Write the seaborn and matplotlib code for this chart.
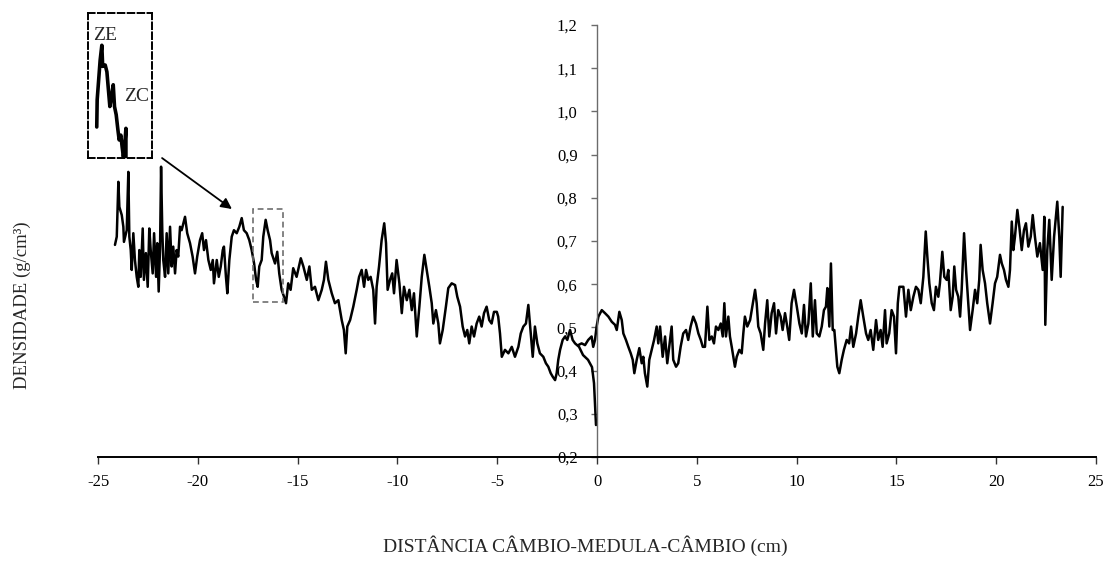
import matplotlib
matplotlib.use("Agg")
import matplotlib.pyplot as plt
import seaborn as sns
import numpy as np
from matplotlib.ticker import FuncFormatter
from matplotlib.patches import Rectangle

# ---------------- data ----------------
# left radius (casca -> medula), distance in cm, density in g/cm3
esq_x = [-24.15, -24.06, -23.98, -23.93, -23.81, -23.73, -23.70, -23.56, -23.48, -23.43,
         -23.36, -23.31, -23.23, -23.15, -23.06, -22.98, -22.93, -22.86, -22.76, -22.70,
         -22.60, -22.51, -22.43, -22.36, -22.26, -22.19, -22.09, -22.03, -21.96, -21.89,
         -21.84, -21.78, -21.73, -21.64, -21.56, -21.48, -21.39, -21.31, -21.23, -21.14,
         -21.06, -20.98, -20.89, -20.81, -20.64, -20.53, -20.39, -20.26, -20.14, -20.03,
         -19.89, -19.78, -19.69, -19.59, -19.47, -19.35, -19.25, -19.19, -19.05, -18.95,
         -18.85, -18.75, -18.69, -18.59, -18.52, -18.42, -18.30, -18.19, -18.05, -17.92,
         -17.80, -17.69, -17.55, -17.42, -17.30, -17.18, -17.08, -17.00, -16.92, -16.80,
         -16.72, -16.60, -16.50, -16.38, -16.30, -16.13, -16.02, -15.92, -15.80, -15.68,
         -15.58, -15.47, -15.35, -15.22, -15.05, -14.84, -14.71, -14.54, -14.41, -14.29,
         -14.13, -13.96, -13.79, -13.68, -13.58, -13.46, -13.29, -13.13, -12.96, -12.79,
         -12.68, -12.59, -12.51, -12.37, -12.21, -12.04, -11.92, -11.79, -11.67, -11.57,
         -11.46, -11.34, -11.21, -11.12, -11.04, -10.92, -10.79, -10.66, -10.57, -10.49,
         -10.37, -10.26, -10.17, -10.04, -9.90, -9.78, -9.67, -9.53, -9.40, -9.28,
         -9.17, -9.03, -8.90, -8.78, -8.65, -8.53, -8.40, -8.28, -8.20, -8.07,
         -7.95, -7.87, -7.73, -7.57, -7.45, -7.28, -7.11, -7.00, -6.86, -6.73,
         -6.61, -6.50, -6.40, -6.28, -6.16, -6.03, -5.90, -5.78, -5.66, -5.53,
         -5.40, -5.28, -5.16, -5.02, -4.95, -4.86, -4.77, -4.61, -4.44, -4.27,
         -4.11, -3.94, -3.82, -3.69, -3.56, -3.44, -3.36, -3.22, -3.11, -2.99,
         -2.86, -2.69, -2.56, -2.44, -2.32, -2.22, -2.10, -2.02, -1.94, -1.85,
         -1.72, -1.60, -1.49, -1.35, -1.22, -1.10, -0.90, -0.70, -0.45, -0.25,
         -0.15, -0.05]
esq_dens = [0.691, 0.710, 0.837, 0.779, 0.760, 0.733, 0.698, 0.725, 0.860, 0.710,
            0.679, 0.633, 0.718, 0.656, 0.617, 0.594, 0.679, 0.617, 0.729, 0.610,
            0.672, 0.594, 0.729, 0.679, 0.625, 0.718, 0.617, 0.695, 0.583, 0.687,
            0.872, 0.725, 0.656, 0.617, 0.718, 0.625, 0.733, 0.641, 0.687, 0.625,
            0.679, 0.664, 0.733, 0.725, 0.756, 0.718, 0.695, 0.664, 0.625, 0.664,
            0.702, 0.718, 0.679, 0.702, 0.656, 0.633, 0.656, 0.602, 0.656, 0.617,
            0.641, 0.679, 0.687, 0.617, 0.579, 0.656, 0.710, 0.725, 0.718, 0.733,
            0.753, 0.725, 0.718, 0.702, 0.679, 0.648, 0.610, 0.594, 0.641, 0.656,
            0.710, 0.749, 0.725, 0.702, 0.672, 0.648, 0.675, 0.625, 0.587, 0.571,
            0.556, 0.602, 0.587, 0.637, 0.617, 0.660, 0.641, 0.610, 0.641, 0.587,
            0.594, 0.563, 0.587, 0.610, 0.652, 0.610, 0.579, 0.556, 0.563, 0.517,
            0.494, 0.440, 0.502, 0.517, 0.548, 0.587, 0.617, 0.633, 0.594, 0.633,
            0.610, 0.617, 0.587, 0.509, 0.594, 0.641, 0.702, 0.741, 0.695, 0.587,
            0.610, 0.625, 0.579, 0.656, 0.602, 0.533, 0.594, 0.563, 0.587, 0.540,
            0.579, 0.479, 0.548, 0.617, 0.668, 0.633, 0.594, 0.556, 0.509, 0.540,
            0.509, 0.463, 0.494, 0.548, 0.591, 0.602, 0.598, 0.571, 0.548, 0.502,
            0.479, 0.494, 0.463, 0.502, 0.479, 0.509, 0.525, 0.502, 0.533, 0.548,
            0.517, 0.509, 0.536, 0.536, 0.525, 0.486, 0.432, 0.448, 0.440, 0.455,
            0.432, 0.455, 0.486, 0.502, 0.509, 0.552, 0.509, 0.432, 0.502, 0.463,
            0.440, 0.432, 0.417, 0.409, 0.394, 0.386, 0.378, 0.394, 0.425, 0.448,
            0.471, 0.479, 0.471, 0.494, 0.471, 0.463, 0.455, 0.436, 0.425, 0.408,
            0.371, 0.274]

# right radius (medula -> casca)
dir_x = [-0.94, -0.77, -0.60, -0.44, -0.27, -0.19, -0.10, -0.02, 0.07, 0.24,
         0.40, 0.57, 0.74, 0.90, 0.99, 1.12, 1.24, 1.32, 1.45, 1.57,
         1.69, 1.79, 1.87, 1.99, 2.12, 2.24, 2.32, 2.40, 2.52, 2.62,
         2.74, 2.86, 2.99, 3.07, 3.16, 3.29, 3.41, 3.52, 3.62, 3.74,
         3.82, 3.96, 4.07, 4.19, 4.32, 4.46, 4.57, 4.69, 4.82, 4.96,
         5.08, 5.20, 5.30, 5.41, 5.53, 5.63, 5.75, 5.86, 5.96, 6.08,
         6.20, 6.30, 6.38, 6.46, 6.58, 6.66, 6.75, 6.83, 6.91, 7.00,
         7.13, 7.25, 7.33, 7.41, 7.53, 7.67, 7.78, 7.92, 8.00, 8.08,
         8.20, 8.33, 8.42, 8.53, 8.63, 8.75, 8.87, 8.97, 9.08, 9.20,
         9.30, 9.42, 9.53, 9.63, 9.75, 9.87, 10.01, 10.14, 10.26, 10.37,
         10.47, 10.59, 10.71, 10.81, 10.92, 11.01, 11.14, 11.26, 11.37, 11.47,
         11.54, 11.64, 11.72, 11.81, 11.89, 11.97, 12.04, 12.14, 12.26, 12.37,
         12.51, 12.63, 12.73, 12.84, 12.98, 13.09, 13.21, 13.34, 13.48, 13.59,
         13.71, 13.84, 13.98, 14.09, 14.21, 14.31, 14.43, 14.51, 14.64, 14.76,
         14.88, 14.98, 15.07, 15.15, 15.35, 15.48, 15.60, 15.72, 15.85, 15.98,
         16.10, 16.22, 16.35, 16.47, 16.55, 16.65, 16.77, 16.88, 16.98, 17.10,
         17.18, 17.30, 17.40, 17.52, 17.60, 17.72, 17.82, 17.90, 17.99, 18.10,
         18.19, 18.27, 18.39, 18.49, 18.60, 18.69, 18.82, 18.94, 19.05, 19.15,
         19.22, 19.32, 19.44, 19.55, 19.69, 19.82, 19.94, 20.05, 20.19, 20.28,
         20.39, 20.49, 20.61, 20.69, 20.78, 20.86, 20.94, 21.06, 21.16, 21.28,
         21.39, 21.49, 21.61, 21.73, 21.83, 21.94, 22.06, 22.19, 22.33, 22.41,
         22.46, 22.56, 22.66, 22.78, 22.90, 23.06, 23.16, 23.23, 23.33]
dir_dens = [0.459, 0.463, 0.459, 0.471, 0.479, 0.455, 0.471, 0.502, 0.525, 0.540,
            0.533, 0.525, 0.513, 0.506, 0.494, 0.536, 0.517, 0.486, 0.471, 0.455,
            0.440, 0.425, 0.394, 0.425, 0.452, 0.417, 0.432, 0.394, 0.363, 0.425,
            0.448, 0.471, 0.502, 0.463, 0.502, 0.432, 0.479, 0.417, 0.455, 0.502,
            0.425, 0.409, 0.417, 0.455, 0.486, 0.494, 0.471, 0.502, 0.525, 0.509,
            0.486, 0.471, 0.455, 0.455, 0.548, 0.471, 0.479, 0.463, 0.502, 0.494,
            0.509, 0.479, 0.556, 0.479, 0.525, 0.479, 0.455, 0.432, 0.409, 0.432,
            0.448, 0.440, 0.486, 0.525, 0.502, 0.517, 0.548, 0.587, 0.556, 0.502,
            0.486, 0.448, 0.509, 0.563, 0.479, 0.533, 0.556, 0.486, 0.540, 0.525,
            0.494, 0.533, 0.502, 0.471, 0.556, 0.587, 0.548, 0.509, 0.486, 0.552,
            0.479, 0.509, 0.602, 0.479, 0.563, 0.486, 0.479, 0.502, 0.540, 0.548,
            0.591, 0.502, 0.648, 0.494, 0.494, 0.448, 0.409, 0.394, 0.425, 0.448,
            0.471, 0.463, 0.502, 0.455, 0.486, 0.525, 0.563, 0.525, 0.486, 0.471,
            0.494, 0.448, 0.517, 0.471, 0.494, 0.455, 0.540, 0.463, 0.486, 0.540,
            0.525, 0.440, 0.556, 0.594, 0.594, 0.525, 0.587, 0.540, 0.571, 0.594,
            0.587, 0.556, 0.617, 0.722, 0.664, 0.602, 0.556, 0.540, 0.594, 0.571,
            0.602, 0.675, 0.617, 0.610, 0.633, 0.540, 0.571, 0.641, 0.587, 0.571,
            0.525, 0.587, 0.718, 0.633, 0.556, 0.494, 0.540, 0.587, 0.556, 0.610,
            0.691, 0.633, 0.602, 0.556, 0.509, 0.556, 0.602, 0.617, 0.668, 0.648,
            0.633, 0.610, 0.594, 0.633, 0.745, 0.679, 0.710, 0.772, 0.733, 0.679,
            0.725, 0.741, 0.687, 0.710, 0.760, 0.710, 0.664, 0.695, 0.633, 0.756,
            0.506, 0.679, 0.749, 0.610, 0.710, 0.791, 0.710, 0.617, 0.779]

# enlarged detail (zona de transição ZE -> ZC)
det_x = [-17.03, -17.02, -16.95, -16.91, -16.89, -16.83, -16.79, -16.76, -16.72, -16.68,
         -16.64, -16.61, -16.57, -16.53, -16.50, -16.46, -16.43, -16.40, -16.37, -16.34, -16.34]
det_dens = [0.605, 0.645, 0.703, 0.725, 0.694, 0.696, 0.686, 0.664, 0.635, 0.650,
            0.667, 0.635, 0.623, 0.601, 0.586, 0.593, 0.576, 0.561, 0.576, 0.603, 0.561]

x_ticks = [-25, -20, -15, -10, -5, 0, 5, 10, 15, 20, 25]
y_ticks = [0.2, 0.3, 0.4, 0.5, 0.6, 0.7, 0.8, 0.9, 1.0, 1.1, 1.2]

# ---------------- style ----------------
sns.set_style("white")
plt.rcParams["font.family"] = ["Liberation Serif", "DejaVu Serif"]
plt.rcParams["axes.unicode_minus"] = False

W, H = 1105, 561
fig = plt.figure(figsize=(W / 100, H / 100), dpi=100)
ax = fig.add_axes([98 / W, 1 - 457 / H, 998 / W, 432 / H])

sns.lineplot(x=esq_x, y=esq_dens, ax=ax, color="black", lw=1.8,
             sort=False, estimator=None)
sns.lineplot(x=dir_x, y=dir_dens, ax=ax, color="black", lw=1.8,
             sort=False, estimator=None)

ax.set_xlim(-25, 25)
ax.set_ylim(0.2, 1.2)
ax.set_xticks(x_ticks)
ax.set_yticks(y_ticks)
ax.yaxis.set_major_formatter(FuncFormatter(lambda v, p: f"{v:.1f}".replace(".", ",")))
ax.set_xlabel("")
ax.set_ylabel("")

for s in ["top", "right"]:
    ax.spines[s].set_visible(False)
ax.spines["left"].set_position(("data", 0))
ax.spines["left"].set_color("#6b6b6b")
ax.spines["left"].set_linewidth(1.0)
ax.spines["bottom"].set_color("black")
ax.spines["bottom"].set_linewidth(1.4)
ax.tick_params(axis="x", bottom=True, direction="out", length=5, width=1,
               color="#333333", pad=7, labelsize=12, labelcolor="black")
ax.tick_params(axis="y", left=True, direction="out", length=4, width=1,
               color="#6b6b6b", pad=10, labelsize=12, labelcolor="black")

# dashed box marking the enlarged region
ax.add_patch(Rectangle((-17.22, 0.559), 1.50, 0.214, fill=False,
                       ec="#6e6e6e", lw=1.2, ls=(0, (3.5, 2.2)), zorder=5))

# arrow from the enlargement to the region
ax.annotate("", xy=(-18.29, 0.774), xytext=(-21.79, 0.892),
            arrowprops=dict(arrowstyle="-|>", color="black", lw=1.3,
                            mutation_scale=16, shrinkA=0, shrinkB=0),
            annotation_clip=False)

# inset with the enlargement
axi = fig.add_axes([88.3 / W, 1 - 158.3 / H, 63.4 / W, 145 / H])
sns.lineplot(x=det_x, y=det_dens, ax=axi, color="black", lw=2.6,
             sort=False, estimator=None)
axi.set_xlim(-17.23, -15.73)
axi.set_ylim(0.559, 0.772)
axi.set_xticks([])
axi.set_yticks([])
axi.set_xlabel("")
axi.set_ylabel("")
for s in axi.spines.values():
    s.set_visible(True)
    s.set_color("black")
    s.set_linewidth(1.4)
    s.set_linestyle((0, (3.4, 1.7)))
axi.patch.set_alpha(0)

fig.text(105.5 / W, 1 - 35.5 / H, "ZE", ha="center", va="center", fontsize=14)
fig.text(136.5 / W, 1 - 96.5 / H, "ZC", ha="center", va="center", fontsize=14)

fig.text(22 / W, 1 - 305 / H, "DENSIDADE (g/cm³)", rotation=90,
         ha="center", va="center", fontsize=13.5)
fig.text(585 / W, 1 - 546 / H, "DISTÂNCIA CÂMBIO-MEDULA-CÂMBIO (cm)",
         ha="center", va="center", fontsize=14)

fig.savefig("out.png", dpi=100)
